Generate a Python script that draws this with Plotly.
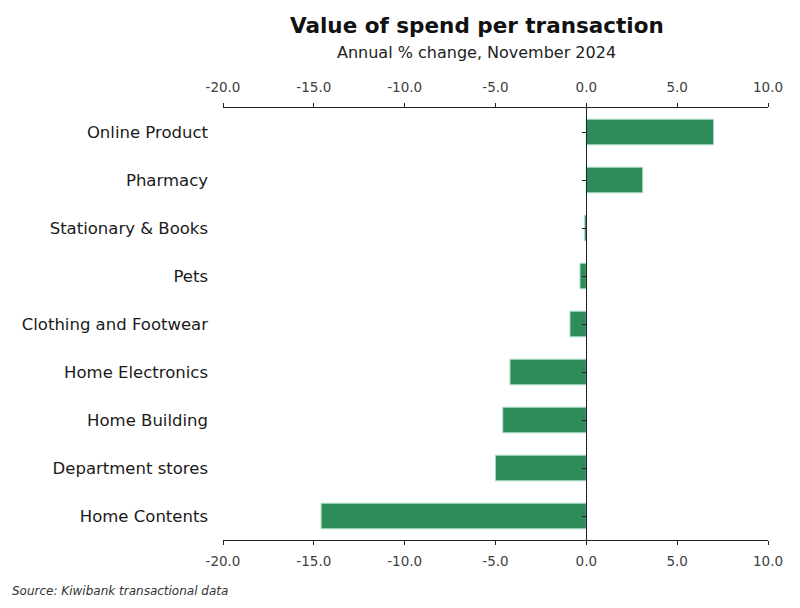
import plotly.graph_objects as go

categories = ["Online Product", "Pharmacy", "Stationary & Books", "Pets",
              "Clothing and Footwear", "Home Electronics", "Home Building",
              "Department stores", "Home Contents"]
values = [7.0, 3.1, -0.1, -0.35, -0.9, -4.2, -4.6, -5.0, -14.6]
tick_vals = [-20, -15, -10, -5, 0, 5, 10]
tick_text = ["-20.0", "-15.0", "-10.0", "-5.0", "0.0", "5.0", "10.0"]

# page body has an 8px margin; compensate so the plot lands where the reference has it
OFF = 8
W, H = 800 - OFF, 608 - OFF
L, R, T, B = 223 - OFF, 32, 108 - OFF, 68
FONT = "DejaVu Sans"
xr = [-20, 10]
yr = [len(categories) - 0.5, -0.5]
zero_pos = (0 - xr[0]) / (xr[1] - xr[0])
PW, PH = W - L - R, H - T - B


def px_x(x):  # page pixel -> paper coordinate
    return (x - OFF - L) / PW


def px_y(y):
    return 1 - (y - OFF - T) / PH


fig = go.Figure()
fig.add_trace(go.Bar(
    x=values, y=categories, orientation="h", width=0.53,
    marker=dict(color="#2e8b5a", line=dict(color="#a6dcbc", width=1)),
    showlegend=False, hoverinfo="x+y"))
fig.add_trace(go.Scatter(x=xr, y=[categories[0], categories[0]], xaxis="x2",
                         mode="markers", marker=dict(opacity=0), showlegend=False,
                         hoverinfo="skip"))
fig.add_trace(go.Scatter(x=[0], y=[categories[0]], yaxis="y2",
                         mode="markers", marker=dict(opacity=0), showlegend=False,
                         hoverinfo="skip"))

axis_font = dict(family=FONT, size=13.5, color="#404040")
fig.update_layout(
    width=W, height=H,
    margin=dict(l=L, r=R, t=T, b=B),
    plot_bgcolor="white", paper_bgcolor="white",
    xaxis=dict(range=xr, tickvals=tick_vals, ticktext=tick_text,
               showline=True, linecolor="#222", linewidth=1.3,
               ticks="outside", ticklen=4, tickcolor="#222", showgrid=False,
               zeroline=False, tickfont=axis_font, ticklabelstandoff=5,
               fixedrange=True),
    xaxis2=dict(range=xr, tickvals=tick_vals, ticktext=tick_text,
                overlaying="x", side="top", anchor="y",
                showline=True, linecolor="#222", linewidth=1.3,
                ticks="outside", ticklen=4, tickcolor="#222", showgrid=False,
                zeroline=False, tickfont=axis_font, ticklabelstandoff=5),
    yaxis=dict(categoryorder="array", categoryarray=categories, range=yr,
               showline=False, ticks="", showgrid=False, zeroline=False,
               ticklabelstandoff=14,
               tickfont=dict(family=FONT, size=16.5, color="#1a1a1a")),
    yaxis2=dict(categoryorder="array", categoryarray=categories, range=yr,
                overlaying="y", anchor="free", position=zero_pos, side="left",
                showline=True, linecolor="#222", linewidth=1.3,
                ticks="outside", ticklen=4, tickcolor="#222",
                showticklabels=False, showgrid=False, zeroline=False),
    annotations=[
        dict(text="<b>Value of spend per transaction</b>", x=px_x(476.5), y=px_y(25),
             xref="paper", yref="paper", showarrow=False, xanchor="center",
             yanchor="middle", font=dict(family=FONT, size=21.5, color="#111")),
        dict(text="Annual % change, November 2024", x=px_x(476.5), y=px_y(52),
             xref="paper", yref="paper", showarrow=False, xanchor="center",
             yanchor="middle", font=dict(family=FONT, size=16, color="#222")),
        dict(text="<i>Source: Kiwibank transactional data</i>", x=px_x(10),
             y=px_y(591), xref="paper", yref="paper", showarrow=False,
             xanchor="left", yanchor="middle",
             font=dict(family=FONT, size=12, color="#333")),
    ],
)
fig.write_html("out.html")
